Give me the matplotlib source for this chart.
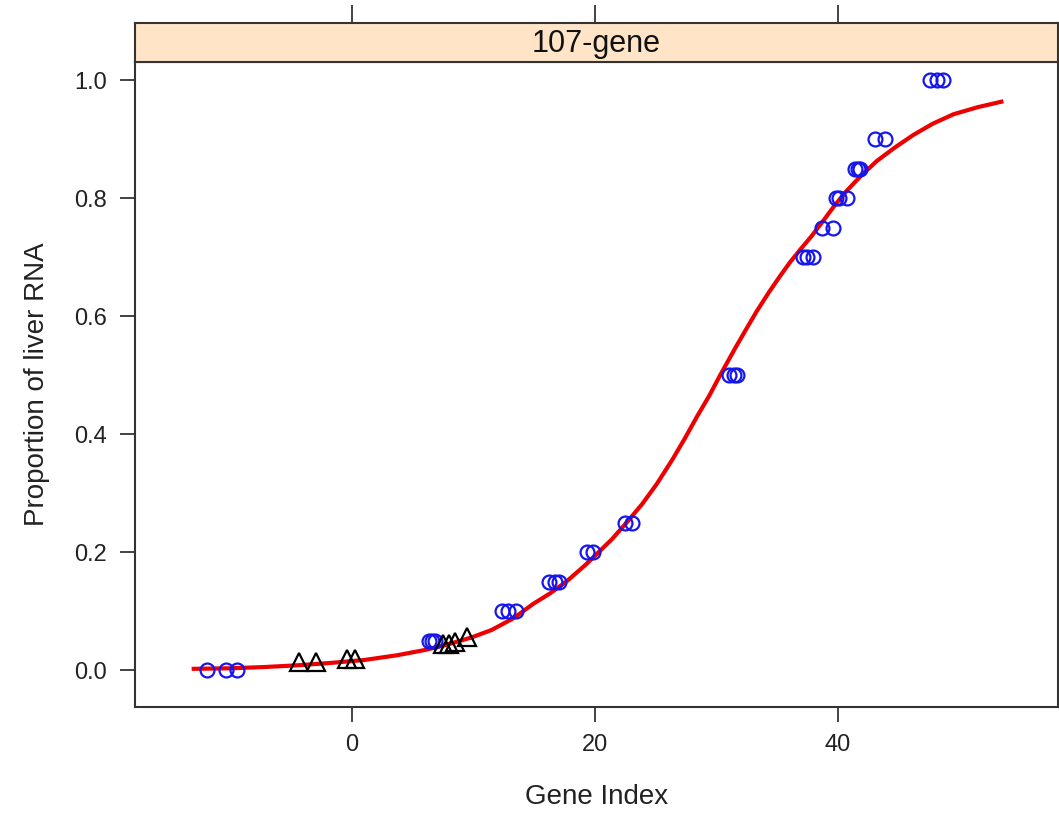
import matplotlib
matplotlib.use("Agg")
import matplotlib.pyplot as plt

plt.rcParams['font.family'] = ['Liberation Sans', 'DejaVu Sans']

# observed proportions (blue circles)
circ_x = [-11.9, -10.4, -9.5,
          6.3, 6.6, 6.8,
          12.3, 12.8, 13.5,
          16.2, 16.7, 17.0,
          19.3, 19.8,
          22.5, 23.0,
          31.0, 31.4, 31.7,
          37.1, 37.4, 37.9,
          38.7, 39.6,
          39.8, 40.1, 40.7,
          41.4, 41.6, 41.8,
          43.0, 43.9,
          47.6, 48.1, 48.6]
circ_y = [0.0, 0.0, 0.0,
          0.05, 0.05, 0.05,
          0.10, 0.10, 0.10,
          0.15, 0.15, 0.15,
          0.20, 0.20,
          0.25, 0.25,
          0.50, 0.50, 0.50,
          0.70, 0.70, 0.70,
          0.75, 0.75,
          0.80, 0.80, 0.80,
          0.85, 0.85, 0.85,
          0.90, 0.90,
          1.0, 1.0, 1.0]

# predicted samples (black triangles)
tri_x = [-4.4, -3.0, -0.4, 0.25, 7.5, 8.0, 8.5, 9.5]
tri_y = [0.013, 0.013, 0.018, 0.018, 0.044, 0.044, 0.047, 0.056]

# fitted curve
fit_x = [-13.2, -10.0, -7.3, -4.5, -1.8, 1.0, 3.7, 6.0, 7.8, 9.8, 11.5,
         13.3, 14.9, 16.3, 17.7, 19.2, 20.2, 21.4, 22.6, 23.9, 25.1, 26.4,
         27.4, 28.4, 29.4, 30.3, 31.6, 32.5, 33.3, 34.3, 35.2, 36.0, 36.9,
         37.8, 38.8, 39.7, 40.7, 41.9, 43.2, 44.7, 46.2, 47.8, 49.5, 51.5, 53.6]
fit_y = [0.002, 0.003, 0.005, 0.008, 0.012, 0.017, 0.025, 0.034, 0.043, 0.055, 0.068,
         0.088, 0.112, 0.13, 0.151, 0.178, 0.198, 0.222, 0.25, 0.282, 0.316, 0.358,
         0.393, 0.43, 0.465, 0.5, 0.548, 0.58, 0.608, 0.64, 0.667, 0.69, 0.713,
         0.735, 0.762, 0.787, 0.812, 0.838, 0.863, 0.886, 0.907, 0.926, 0.942, 0.954, 0.964]

fig = plt.figure(figsize=(10.59, 8.17), dpi=100)
ax = fig.add_axes([0.1275, 0.1346, 0.8716, 0.7895])

ax.plot(fit_x, fit_y, color='#ee0000', lw=3.0, zorder=2,
        solid_capstyle='butt', solid_joinstyle='round')
ax.plot(circ_x, circ_y, 'o', ms=10, mfc='none', mec='#1515ee', mew=1.6, zorder=3)
ax.plot(tri_x, tri_y, '^', ms=12.5, mfc='none', mec='black', mew=1.6, zorder=3)

ax.set_xlim(-17.86, 58.1)
ax.set_ylim(-0.0627, 1.0305)
ax.set_xticks([0, 20, 40])
ax.set_yticks([0.0, 0.2, 0.4, 0.6, 0.8, 1.0])
ax.set_yticklabels(['0.0', '0.2', '0.4', '0.6', '0.8', '1.0'])
ax.tick_params(axis='both', direction='out', length=10.5, width=1.2,
               labelsize=17, colors='#222222', pad=9)
ax.tick_params(axis='y', pad=10)
for s in ax.spines.values():
    s.set_linewidth(1.5)
    s.set_color('#333333')

ax.set_xlabel('Gene Index', fontsize=20, labelpad=20, color='#222222')
ax.set_ylabel('Proportion of liver RNA', fontsize=20, labelpad=17, color='#222222')

# lattice-style strip with ticks on top
strip = fig.add_axes([0.1275, 0.9241, 0.8716, 0.0477], sharex=ax)
strip.set_facecolor('#ffe4c8')
strip.set_yticks([])
strip.tick_params(axis='x', bottom=False, labelbottom=False, top=True,
                  labeltop=False, direction='out', length=13, width=1.2,
                  colors='#222222')
for s in strip.spines.values():
    s.set_linewidth(1.5)
    s.set_color('#333333')
strip.text(0.5, 0.45, '107-gene', transform=strip.transAxes, ha='center',
           va='center', fontsize=22, color='#111111')

fig.savefig('out.png', dpi=100)
